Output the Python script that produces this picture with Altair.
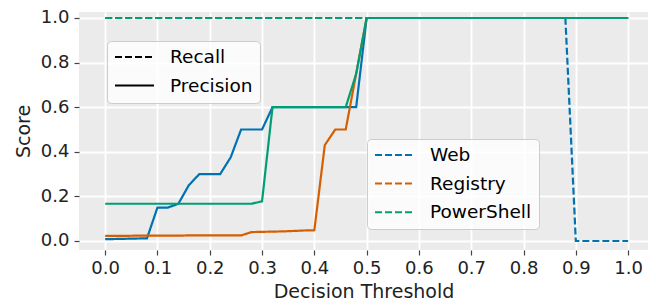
import altair as alt
import pandas as pd

thresholds = [0.00, 0.02, 0.04, 0.06, 0.08, 0.10, 0.12, 0.14, 0.16, 0.18,
              0.20, 0.22, 0.24, 0.26, 0.28, 0.30, 0.32, 0.34, 0.36, 0.38,
              0.40, 0.42, 0.44, 0.46, 0.48, 0.50, 0.52, 0.54, 0.56, 0.58,
              0.60, 0.62, 0.64, 0.66, 0.68, 0.70, 0.72, 0.74, 0.76, 0.78,
              0.80, 0.82, 0.84, 0.86, 0.88, 0.90, 0.92, 0.94, 0.96, 0.98,
              1.00]

categories = ["Web", "Registry", "PowerShell"]
colors = ["#0072B2", "#D55E00", "#009E73"]
metrics = ["Recall", "Precision"]

web_precision = [0.008, 0.009, 0.010, 0.011, 0.012, 0.15, 0.15, 0.167, 0.25, 0.30,
                 0.30, 0.30, 0.375, 0.50, 0.50, 0.50, 0.60, 0.60, 0.60, 0.60,
                 0.60, 0.60, 0.60, 0.60, 0.60, 1.0, 1.0, 1.0, 1.0, 1.0,
                 1.0, 1.0, 1.0, 1.0, 1.0, 1.0, 1.0, 1.0, 1.0, 1.0,
                 1.0, 1.0, 1.0, 1.0, 1.0, 1.0, 1.0, 1.0, 1.0, 1.0,
                 1.0]
web_recall = [1.0, 1.0, 1.0, 1.0, 1.0, 1.0, 1.0, 1.0, 1.0, 1.0,
              1.0, 1.0, 1.0, 1.0, 1.0, 1.0, 1.0, 1.0, 1.0, 1.0,
              1.0, 1.0, 1.0, 1.0, 1.0, 1.0, 1.0, 1.0, 1.0, 1.0,
              1.0, 1.0, 1.0, 1.0, 1.0, 1.0, 1.0, 1.0, 1.0, 1.0,
              1.0, 1.0, 1.0, 1.0, 1.0, 0.0, 0.0, 0.0, 0.0, 0.0,
              0.0]
registry_precision = [0.023, 0.023, 0.023, 0.024, 0.024, 0.024, 0.024, 0.024, 0.025, 0.025,
                      0.025, 0.025, 0.025, 0.025, 0.040, 0.041, 0.042, 0.043, 0.045, 0.047,
                      0.048, 0.43, 0.50, 0.50, 0.75, 1.0, 1.0, 1.0, 1.0, 1.0,
                      1.0, 1.0, 1.0, 1.0, 1.0, 1.0, 1.0, 1.0, 1.0, 1.0,
                      1.0, 1.0, 1.0, 1.0, 1.0, 1.0, 1.0, 1.0, 1.0, 1.0,
                      1.0]
registry_recall = [1.0, 1.0, 1.0, 1.0, 1.0, 1.0, 1.0, 1.0, 1.0, 1.0,
                   1.0, 1.0, 1.0, 1.0, 1.0, 1.0, 1.0, 1.0, 1.0, 1.0,
                   1.0, 1.0, 1.0, 1.0, 1.0, 1.0, 1.0, 1.0, 1.0, 1.0,
                   1.0, 1.0, 1.0, 1.0, 1.0, 1.0, 1.0, 1.0, 1.0, 1.0,
                   1.0, 1.0, 1.0, 1.0, 1.0, 1.0, 1.0, 1.0, 1.0, 1.0,
                   1.0]
powershell_precision = [0.167, 0.167, 0.167, 0.167, 0.167, 0.167, 0.167, 0.167, 0.167, 0.167,
                        0.167, 0.167, 0.167, 0.167, 0.167, 0.178, 0.60, 0.60, 0.60, 0.60,
                        0.60, 0.60, 0.60, 0.60, 0.75, 1.0, 1.0, 1.0, 1.0, 1.0,
                        1.0, 1.0, 1.0, 1.0, 1.0, 1.0, 1.0, 1.0, 1.0, 1.0,
                        1.0, 1.0, 1.0, 1.0, 1.0, 1.0, 1.0, 1.0, 1.0, 1.0,
                        1.0]
powershell_recall = [1.0, 1.0, 1.0, 1.0, 1.0, 1.0, 1.0, 1.0, 1.0, 1.0,
                     1.0, 1.0, 1.0, 1.0, 1.0, 1.0, 1.0, 1.0, 1.0, 1.0,
                     1.0, 1.0, 1.0, 1.0, 1.0, 1.0, 1.0, 1.0, 1.0, 1.0,
                     1.0, 1.0, 1.0, 1.0, 1.0, 1.0, 1.0, 1.0, 1.0, 1.0,
                     1.0, 1.0, 1.0, 1.0, 1.0, 1.0, 1.0, 1.0, 1.0, 1.0,
                     1.0]

x_ticks = [0.0, 0.1, 0.2, 0.3, 0.4, 0.5, 0.6, 0.7, 0.8, 0.9, 1.0]
y_ticks = [0.0, 0.2, 0.4, 0.6, 0.8, 1.0]

series = {
    ("Web", "Recall"): web_recall,
    ("Web", "Precision"): web_precision,
    ("Registry", "Recall"): registry_recall,
    ("Registry", "Precision"): registry_precision,
    ("PowerShell", "Recall"): powershell_recall,
    ("PowerShell", "Precision"): powershell_precision,
}

rows = []
for (cat, met), vals in series.items():
    for t, v in zip(thresholds, vals):
        rows.append({"threshold": t, "score": v, "category": cat, "metric": met})
df = pd.DataFrame(rows)

FONT = "DejaVu Sans"

x_enc = alt.X("threshold:Q",
              scale=alt.Scale(domain=[-0.05, 1.038], nice=False, zero=False),
              axis=alt.Axis(values=x_ticks, format=".1f", title="Decision Threshold",
                            labelPadding=4, titlePadding=5))
y_enc = alt.Y("score:Q",
              scale=alt.Scale(domain=[-0.0404, 1.0269], nice=False, zero=False),
              axis=alt.Axis(values=y_ticks, format=".1f", title="Score",
                            labelPadding=5, titlePadding=7))
color_enc = alt.Color("category:N",
                      scale=alt.Scale(domain=categories, range=colors),
                      legend=alt.Legend(orient="none", legendX=288, legendY=127, title=None,
                                        symbolDash=[7, 3]))
dash_enc = alt.StrokeDash("metric:N",
                          scale=alt.Scale(domain=metrics, range=[[7, 3], [1, 0]]),
                          legend=alt.Legend(orient="none", legendX=28, legendY=29, title=None,
                                            symbolStrokeColor="black"))

base = alt.Chart(df).mark_line(strokeWidth=2.2).encode(
    x=x_enc, y=y_enc, color=color_enc, strokeDash=dash_enc,
    order=alt.Order("threshold:Q")
)

layers = [base.transform_filter(alt.datum.category == c) for c in categories]

chart = alt.layer(*layers).properties(
    width=569, height=238,
    autosize=alt.AutoSizeParams(type="none"),
    padding={"left": 71, "top": 4, "right": 0, "bottom": 50},
).configure_view(
    fill="#EBEBEB", stroke=None
).configure_axis(
    labelFont=FONT, titleFont=FONT, labelFontSize=18, titleFontSize=19,
    labelColor="#222222", titleColor="#222222", titleFontWeight="normal",
    grid=True, gridColor="white", gridWidth=1.8, domain=False,
    tickColor="#444444", tickSize=5, tickWidth=1.2,
).configure_legend(
    labelFont=FONT, labelFontSize=18.5, labelColor="black",
    symbolType="stroke", symbolSize=1521, symbolStrokeWidth=2,
    labelOffset=15, padding=7, clipHeight=18, rowPadding=9.6,
    fillColor="rgba(255,255,255,0.8)", strokeColor="#cccccc", cornerRadius=4,
)

chart.save("out.html", embed_options={"renderer": "svg", "actions": False})
